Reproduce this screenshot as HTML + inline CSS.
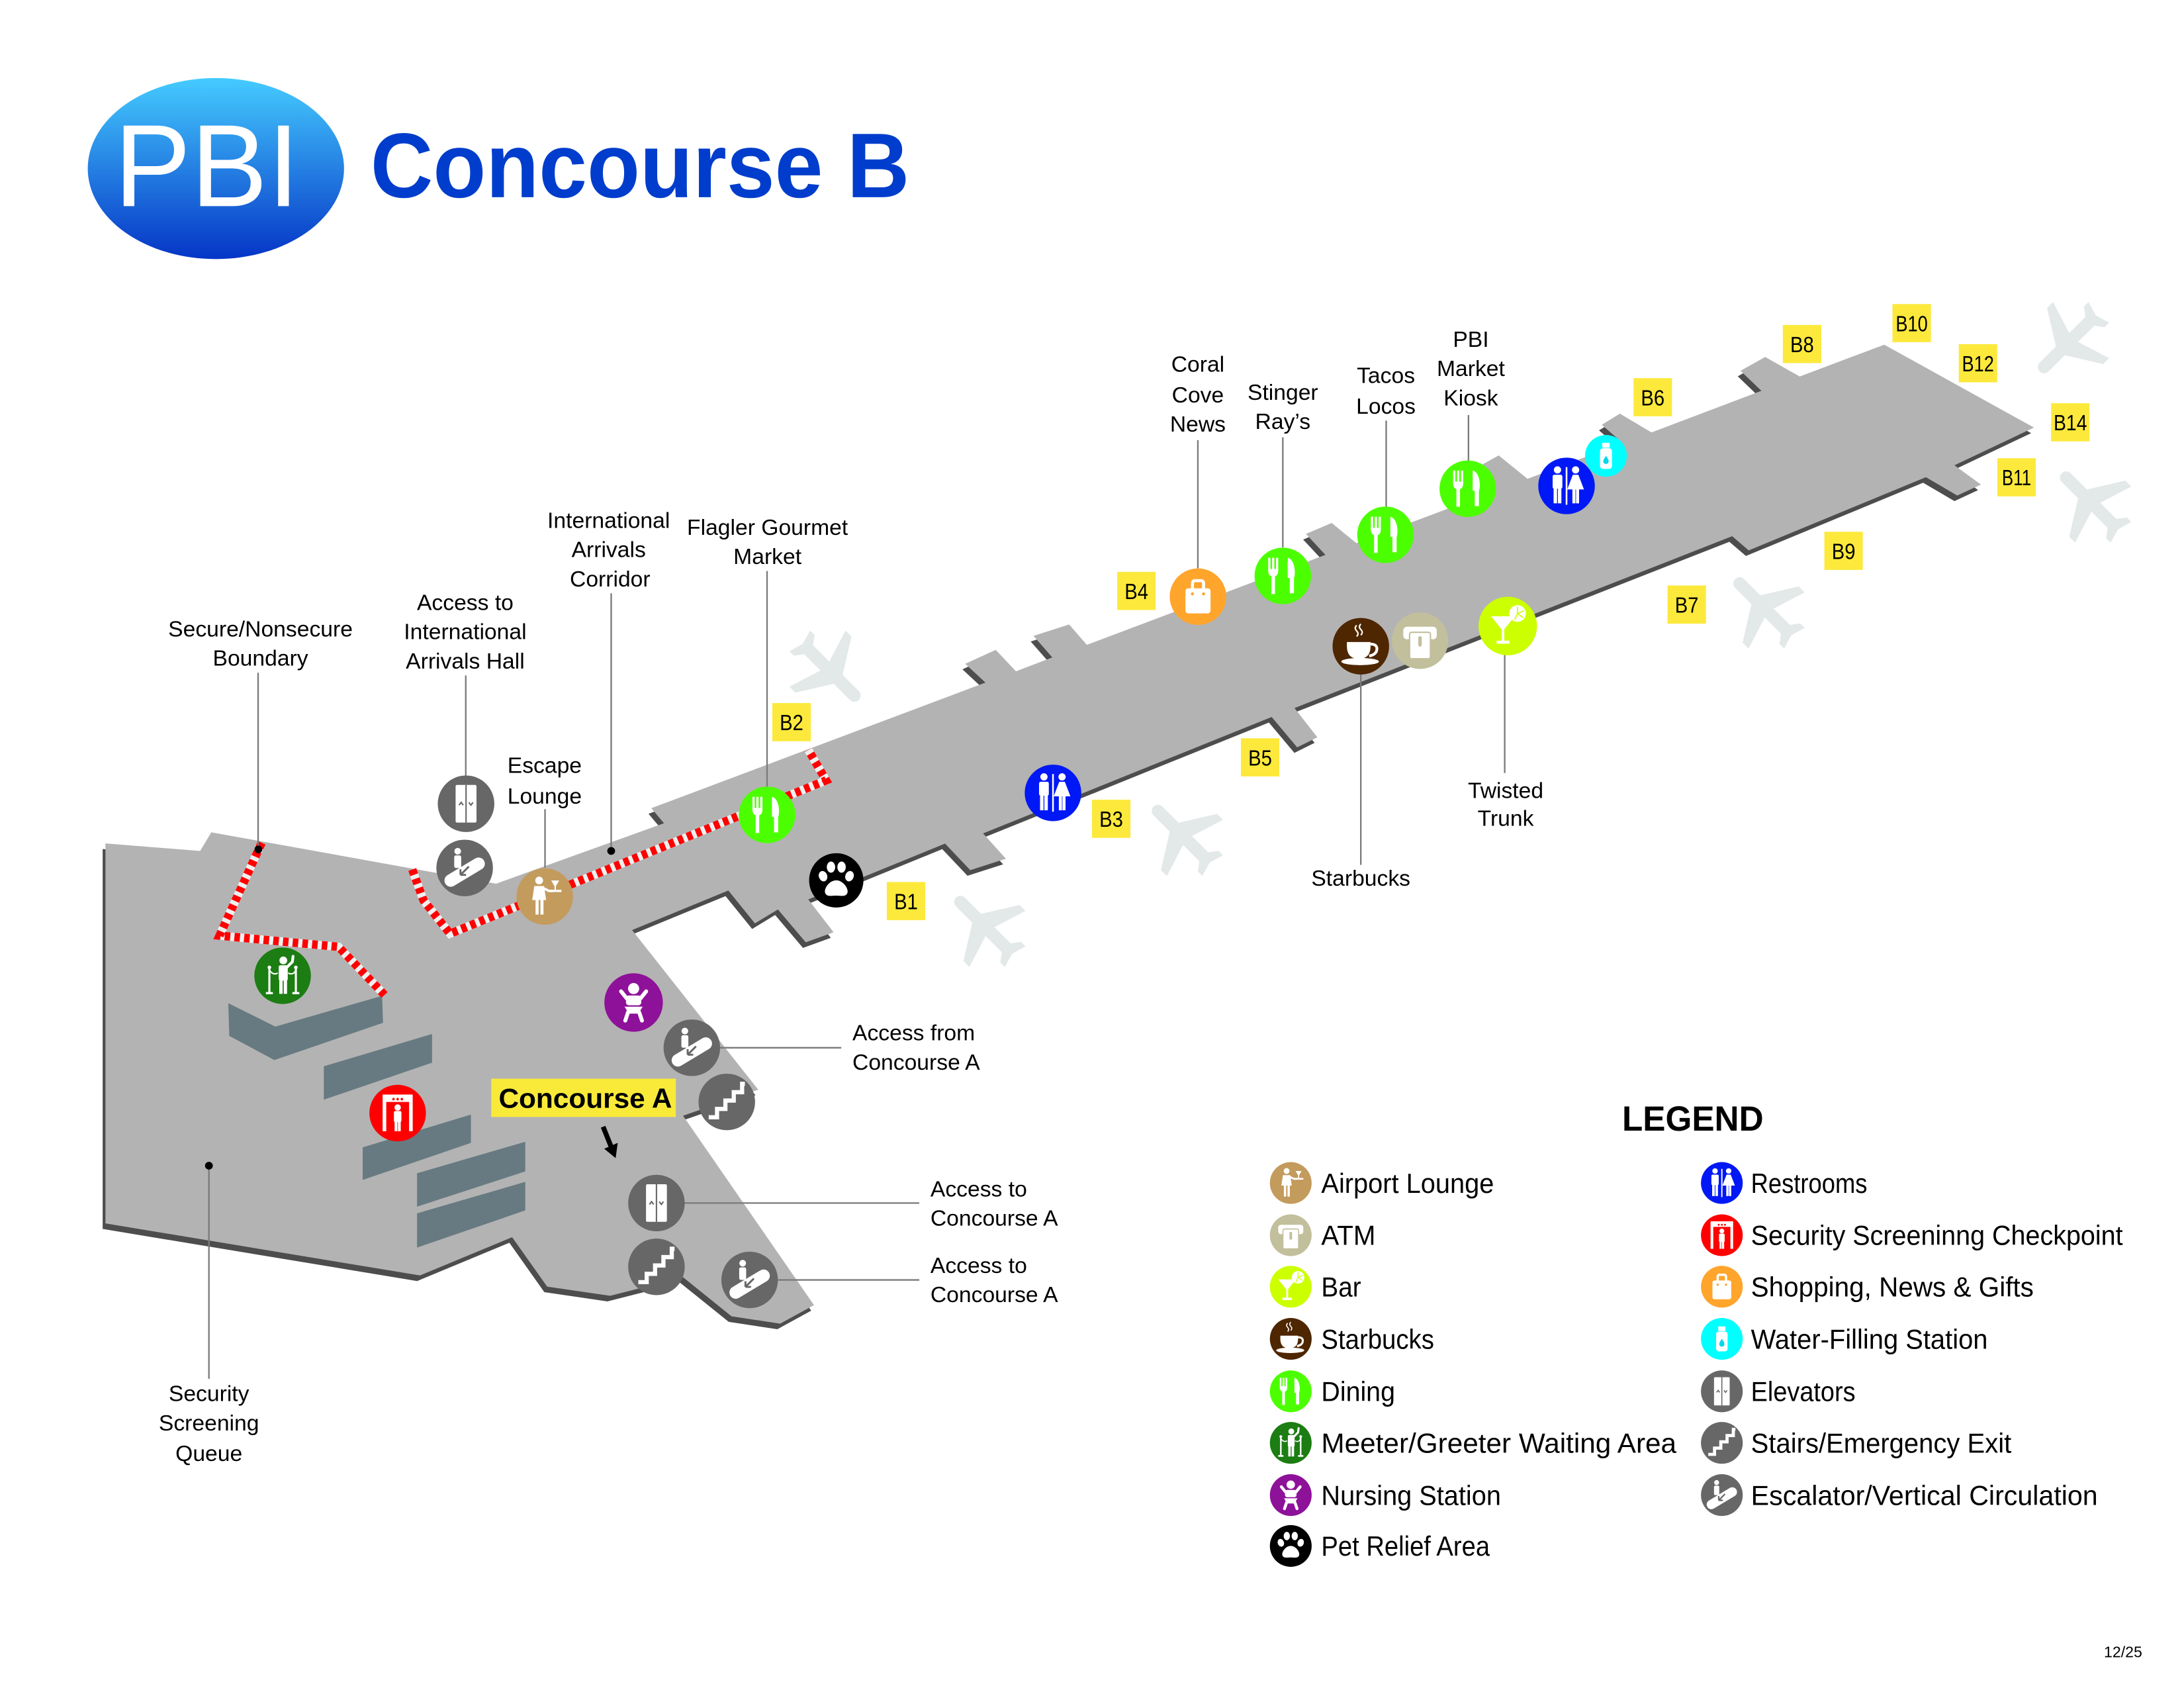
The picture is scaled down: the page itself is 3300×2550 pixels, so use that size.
<!DOCTYPE html>
<html><head><meta charset="utf-8">
<style>
html,body{margin:0;padding:0;background:#fff;}
svg{display:block;}
text{font-family:"Liberation Sans",Arial,sans-serif;}
</style></head><body>
<svg xmlns="http://www.w3.org/2000/svg" width="3300" height="2550" viewBox="0 0 1568 1212" preserveAspectRatio="none">
<defs>
<linearGradient id="lg" x1="0" y1="0" x2="0" y2="1">
<stop offset="0" stop-color="#45cbff"/><stop offset="1" stop-color="#0535c6"/>
</linearGradient>
<g id="plane"><path transform="translate(-11.5,-12)" d="M21 16v-2l-8-5V3.5c0-.83-.67-1.5-1.5-1.5S10 2.67 10 3.5V9l-8 5v2l8-2.5V19l-2 1.5V22l3.5-1 3.5 1v-1.5L13 19v-5.5l8 2.5z"/></g>
<polygon id="shape" points="75.7,605.6 143.7,611 151.7,597.6 356.2,634.5 476.7,591.1 467.6,580.3 707.5,490.1 693,476.6 714.9,466.6 729.4,482 755.5,472 742,456.6 767.6,448.4 780.3,463 951.6,398.4 937.6,383.4 956.1,375.5 973.8,390 1072,353 1058,337 1076,327 1096.7,343.8 1165,318.1 1150,305 1163,297 1185.7,310.5 1264.6,280.6 1249.6,266.2 1267.3,256.3 1292.1,270.3 1352.8,247.5 1460.3,307 1403.2,334.1 1422.2,347.9 1405.2,355.8 1382.7,342.6 1255.5,395.2 1243.6,385 929.4,508.4 945.8,529.4 931.3,536.6 913,514.8 705.8,598.4 722.2,616.6 696.6,624.8 678.5,605.7 580.3,645.8 598.5,669.4 578.5,676.6 558.5,653 542,663 522.9,639.4 453.8,667.8 544.4,782.4 490.4,801.1 584.4,937.1 560.1,950.4 525.2,945.1 490.4,917.1 438.1,930.4 392.8,923.8 367.7,888.3 301.5,915.8 75.7,878.4"/>

<g id="g-dining" fill="#fff">
<rect x="-10.5" y="-13" width="1.6" height="9"/>
<rect x="-7.7" y="-13" width="1.6" height="9"/>
<rect x="-4.9" y="-13" width="1.6" height="9"/>
<path d="M-10.5,-5 h7.2 v1 q0,3.5 -2.3,4.3 v12.7 h-2.6 v-12.7 q-2.3,-0.8 -2.3,-4.3z"/>
<path d="M3.5,-13 C8.5,-12 9.5,-2 8,1.5 L8,12.5 L5,12.5 L5,1.5 L3.5,1.5 Z"/>
</g>
<g id="g-rest" fill="#fff">
<circle cx="-6.5" cy="-11.5" r="2.6"/>
<rect x="-10" y="-8" width="7" height="10" rx="1.2"/>
<rect x="-9.3" y="1" width="2.5" height="11.5"/>
<rect x="-6.2" y="1" width="2.5" height="11.5"/>
<rect x="-0.6" y="-13.5" width="1.2" height="27"/>
<circle cx="6.5" cy="-11.5" r="2.6"/>
<path d="M4.5,-8 h4 l4,10.5 h-12z"/>
<rect x="4.2" y="2" width="2.2" height="10.5"/>
<rect x="6.8" y="2" width="2.2" height="10.5"/>
</g>
<g id="g-elev">
<rect x="-7.5" y="-13.5" width="15" height="27" rx="1" fill="#fff"/>
<path d="M0,-13.5 V13.5" stroke="#676767" stroke-width="1"/>
<path d="M-5,1 l1.5,-2 l1.5,2 M2,-1 l1.5,2 l1.5,-2" stroke="#676767" stroke-width="1" fill="none"/>
</g>
<g id="g-esc">
<path d="M-10,9 L10,-3" stroke="#fff" stroke-width="9" stroke-linecap="round"/>
<circle cx="-5" cy="-12" r="2.4" fill="#fff"/>
<rect x="-7.5" y="-9" width="5" height="9" rx="1.2" fill="#fff"/>
<path d="M3,-1 L-3,5 M-3,5 v-4 M-3,5 h4" stroke="#676767" stroke-width="1.4" fill="none"/>
</g>
<g id="g-stairs">
<path d="M-13,11 h6 v-6 h6 v-6 h6 v-6 h6 v-6 h2" stroke="#fff" stroke-width="3" fill="none"/>
</g>
<g id="g-shop">
<path d="M-4,-5 v-4.5 q0,-2 2,-2 h4 q2,0 2,2 v4.5" stroke="#fff" stroke-width="2.2" fill="none"/>
<rect x="-9" y="-6" width="18" height="18" rx="2" fill="#fff"/>
<circle cx="-4" cy="-2" r="1.1" fill="#ffa52c"/><circle cx="4" cy="-2" r="1.1" fill="#ffa52c"/>
</g>
<g id="g-coffee" fill="#fff">
<path d="M-10,-3 h17 v3 q0,9 -8.5,9 q-8.5,0 -8.5,-9z"/>
<path d="M7,-1.5 q5,0 4.5,4 q-0.5,3.5 -5.5,4.5" stroke="#fff" stroke-width="2" fill="none"/>
<ellipse cx="-0.5" cy="11" rx="13.5" ry="2.6"/>
<path d="M-3,-15 q-2,2 0,4 q2,2 0,4 M0,-16 q-2,2 0,4 q2,2 0,4" stroke="#fff" stroke-width="1" fill="none"/>
</g>
<g id="g-atm">
<rect x="-12" y="-10" width="24" height="9" rx="2.5" fill="#fff"/>
<rect x="-7.5" y="-6" width="15" height="19" rx="1.5" fill="#fff" stroke="#c2bf9c" stroke-width="1"/>
<path d="M0,-2 v5" stroke="#c2bf9c" stroke-width="2.5" stroke-linecap="round"/>
</g>
<g id="g-bar" fill="#fff">
<path d="M-12,-7 h17 l-8.5,10.5z"/>
<rect x="-4.3" y="2" width="1.8" height="9"/>
<rect x="-8" y="10.5" width="9.2" height="2.2"/>
<circle cx="7" cy="-9" r="6"/>
<path d="M7,-9 l0,-5 M7,-9 l4.5,-2 M7,-9 l4,3 M7,-9 l-2,4.5" stroke="#ccff00" stroke-width="0.8"/>
</g>
<g id="g-water">
<rect x="-5.5" y="-7" width="11" height="19" rx="2.5" fill="#fff"/>
<rect x="-3.5" y="-12" width="7" height="4.5" rx="1" fill="#fff"/>
<path d="M0,0 q-2.5,3.5 -2.5,5 a2.5,2.5 0 0 0 5,0 q0,-1.5 -2.5,-5z" fill="#00d8e8"/>
</g>
<g id="g-pet" fill="#fff">
<path d="M0,0 c-5,0 -9,6 -8,9 c1,3 5,2 8,2 c3,0 7,1 8,-2 c1,-3 -3,-9 -8,-9z"/>
<ellipse cx="-9.5" cy="-3" rx="3" ry="3.8" transform="rotate(-20 -9.5 -3)"/>
<ellipse cx="-3.8" cy="-9.5" rx="3" ry="4"/>
<ellipse cx="3.8" cy="-9.5" rx="3" ry="4"/>
<ellipse cx="9.5" cy="-3" rx="3" ry="3.8" transform="rotate(20 9.5 -3)"/>
</g>
<g id="g-nurse">
<circle cx="0" cy="-10" r="4" fill="#fff"/>
<path d="M-9,-8 L-5,-3 M9,-8 L5,-3" stroke="#fff" stroke-width="2.8" stroke-linecap="round"/>
<rect x="-5.5" y="-5" width="11" height="7" rx="2" fill="#fff"/>
<path d="M-6.5,3 h13 l-3,5 h-7z" fill="#fff"/>
<path d="M-4,7 l-2,6 M4,7 l2,6" stroke="#fff" stroke-width="2.8" stroke-linecap="round"/>
</g>
<g id="g-meet">
<circle cx="0.5" cy="-11" r="2.8" fill="#fff"/>
<rect x="-2.8" y="-7.5" width="6.5" height="11" rx="1.2" fill="#fff"/>
<path d="M3,-6 l4,-4 l0.5,-4" stroke="#fff" stroke-width="2" fill="none" stroke-linecap="round"/>
<path d="M-1.2,3 v10 M2,3 v10" stroke="#fff" stroke-width="2.4"/>
<path d="M-9.5,-5 v17 M9.5,-5 v17" stroke="#fff" stroke-width="1.5"/>
<path d="M-12,12.5 h5 M7,12.5 h5" stroke="#fff" stroke-width="1.6"/>
<circle cx="-9.5" cy="-6" r="1.3" fill="#fff"/><circle cx="9.5" cy="-6" r="1.3" fill="#fff"/>
<path d="M-9.5,-4 q3,4 6,2 M9.5,-4 q-2,4 -5.5,2" stroke="#fff" stroke-width="1" fill="none"/>
</g>
<g id="g-sec">
<path d="M-9.5,13 v-25 h19 v25" stroke="#fff" stroke-width="2.6" fill="none"/>
<rect x="-9.5" y="-12" width="19" height="4" fill="#fff"/>
<circle cx="-3" cy="-10" r="0.9" fill="#f00"/><circle cx="0" cy="-10" r="0.9" fill="#f00"/><circle cx="3" cy="-10" r="0.9" fill="#f00"/>
<circle cx="0" cy="-4" r="2.3" fill="#fff"/>
<rect x="-2.7" y="-1.5" width="5.4" height="8" rx="1" fill="#fff"/>
<path d="M-1.2,6 v7 M1.2,6 v7" stroke="#fff" stroke-width="2"/>
</g>
<g id="g-lounge">
<circle cx="-4" cy="-11.5" r="2.8" fill="#fff"/>
<path d="M-7.5,-7.5 h7 l1.5,10 h-10z" fill="#fff"/>
<path d="M-5.5,2 v11 M-2,2 v11" stroke="#fff" stroke-width="2.2"/>
<path d="M-1,-6 l4,2 h3" stroke="#fff" stroke-width="1.8" fill="none"/>
<rect x="3" y="-4.8" width="9" height="1.6" fill="#fff"/>
<path d="M5.5,-11 h4 l-2,3.5z M7.5,-7.5 v3" stroke="#fff" stroke-width="1" fill="#fff"/>
</g>
</defs>

<rect x="0" y="0" width="1568" height="1212" fill="#fff"/>

<!-- Header -->
<ellipse cx="155" cy="121" rx="92" ry="65" fill="url(#lg)"/>
<text x="82" y="148" font-size="84" fill="#fff" textLength="133" lengthAdjust="spacingAndGlyphs">PBI</text>
<text x="266" y="141.6" font-size="66" font-weight="bold" fill="#003dcc" textLength="387" lengthAdjust="spacingAndGlyphs">Concourse B</text>

<!-- Planes -->
<g fill="#e3e8e8">
<use href="#plane" transform="translate(595.4,481.4) rotate(135) scale(3)"/>
<use href="#plane" transform="translate(849.4,600.3) rotate(-45) scale(3)"/>
<use href="#plane" transform="translate(707.6,665.7) rotate(-45) scale(3)"/>
<use href="#plane" transform="translate(1267,437) rotate(-45) scale(3)"/>
<use href="#plane" transform="translate(1485.6,245.5) rotate(225) scale(3)"/>
<use href="#plane" transform="translate(1501.5,361) rotate(-45) scale(3)"/>
</g>

<!-- Concourse shape -->
<use href="#shape" fill="#4d4d4d" transform="translate(-2,4)"/>
<use href="#shape" fill="#b3b3b3"/>

<!-- slabs -->
<g fill="#677a81">
<polygon points="163.9,720.3 197.7,737.1 274.3,715 275,734.4 197,761.1 164.6,743.8"/>
<polygon points="232.5,765.6 310.2,742.4 310.2,763 232.5,789.6"/>
<polygon points="260.4,823.8 338.1,800.3 338.1,820.6 260.4,847.2"/>
<polygon points="299.4,842.4 377.1,819.8 377.1,841.1 299.4,866.4"/>
<polygon points="299.4,871.2 377.1,848.6 377.1,869.1 299.4,895.8"/>
</g>

<!-- hatched boundary -->
<g fill="none" stroke-width="6">
<path d="M187.9,605.1 L157.6,671.8 L243,679.8 L276.1,714.4" stroke="#eef0f0"/>
<path d="M187.9,605.1 L157.6,671.8 L243,679.8 L276.1,714.4" stroke="#f00" stroke-dasharray="4 3"/>
<path d="M296,624.3 L304,646.4 L323.1,670.4 L593.1,560.3 L580.3,538.4" stroke="#eef0f0"/>
<path d="M296,624.3 L304,646.4 L323.1,670.4 L593.1,560.3 L580.3,538.4" stroke="#f00" stroke-dasharray="4 3"/>
</g>

<!-- leader lines -->
<g stroke="#7a7a7a" stroke-width="1.1" fill="none">
<path d="M185.3,483 V608"/>
<path d="M334.4,485 V557"/>
<path d="M438.8,426 V611"/>
<path d="M550.7,410 V565"/>
<path d="M391.3,581 V623"/>
<path d="M860,316 V408"/>
<path d="M921,314 V393"/>
<path d="M995.2,302 V364"/>
<path d="M1054.3,298 V331"/>
<path d="M977,484 V621"/>
<path d="M1080.3,470 V555"/>
<path d="M516,752.3 H604"/>
<path d="M491,863.8 H660"/>
<path d="M558,919 H660"/>
<path d="M150,837 V990"/>
</g>
<g fill="#000">
<circle cx="185.5" cy="609.9" r="2.8"/>
<circle cx="438.8" cy="611" r="2.8"/>
<circle cx="150" cy="837" r="2.8"/>
</g>

<!-- Map icons -->
<g transform="translate(334.6,577.1)"><circle r="20.3" fill="#676767"/><use href="#g-elev"/></g>
<g transform="translate(333.6,623.2)"><circle r="20.3" fill="#676767"/><use href="#g-esc"/></g>
<g transform="translate(391.1,643.7)"><circle r="20.3" fill="#c39b5d"/><use href="#g-lounge"/></g>
<g transform="translate(202.9,700.6)"><circle r="20.3" fill="#1b7d12"/><use href="#g-meet"/></g>
<g transform="translate(285.5,799.2)"><circle r="20.3" fill="#ff0000"/><use href="#g-sec"/></g>
<g transform="translate(454.9,719.8)"><circle r="21" fill="#8e1199"/><use href="#g-nurse"/></g>
<g transform="translate(496.7,752.3)"><circle r="20.3" fill="#676767"/><use href="#g-esc"/></g>
<g transform="translate(521.8,791.2)"><circle r="20.3" fill="#676767"/><use href="#g-stairs"/></g>
<g transform="translate(471.3,863.8)"><circle r="20.3" fill="#676767"/><use href="#g-elev"/></g>
<g transform="translate(471.3,909.6)"><circle r="20.3" fill="#676767"/><use href="#g-stairs"/></g>
<g transform="translate(538.2,919)"><circle r="20.3" fill="#676767"/><use href="#g-esc"/></g>
<g transform="translate(550.7,585.1)"><circle r="20.3" fill="#4cff00"/><use href="#g-dining"/></g>
<g transform="translate(600.4,632.1)"><circle r="19.5" fill="#000"/><use href="#g-pet"/></g>
<g transform="translate(756,569.3)"><circle r="20.3" fill="#0018f5"/><use href="#g-rest"/></g>
<g transform="translate(860.1,428.4)"><circle r="20.3" fill="#ffa52c"/><use href="#g-shop"/></g>
<g transform="translate(921,413.5)"><circle r="20.3" fill="#4cff00"/><use href="#g-dining"/></g>
<g transform="translate(977,464)"><circle r="20.3" fill="#4e2600"/><use href="#g-coffee"/></g>
<g transform="translate(1019.5,460)"><circle r="20.3" fill="#c2bf9c"/><use href="#g-atm"/></g>
<g transform="translate(994.7,384)"><circle r="20.3" fill="#4cff00"/><use href="#g-dining"/></g>
<g transform="translate(1053.8,350.9)"><circle r="20.3" fill="#4cff00"/><use href="#g-dining"/></g>
<g transform="translate(1124.7,348.9)"><circle r="20.3" fill="#0018f5"/><use href="#g-rest"/></g>
<g transform="translate(1153,327.3)"><circle r="15" fill="#00ffff"/><use href="#g-water" transform="scale(0.78)"/></g>
<g transform="translate(1082.5,449.5)"><circle r="21" fill="#ccff00"/><use href="#g-bar"/></g>

<!-- Concourse A label -->
<rect x="352.7" y="774.5" width="132.5" height="27.5" fill="#f9ea3a"/>
<text x="358" y="795.3" font-size="20" font-weight="bold" fill="#000" textLength="124.5" lengthAdjust="spacingAndGlyphs">Concourse A</text>
<path d="M433,809 L439,824" stroke="#000" stroke-width="3.5"/>
<polygon points="443.5,820.6 433.8,824.8 442,831.5" fill="#000"/>

<!-- Gate labels -->
<g fill="#fce93c">
<rect x="636.7" y="633.3" width="27.6" height="27.4"/>
<rect x="554.5" y="504.8" width="27.6" height="27.4"/>
<rect x="784" y="574.2" width="27.6" height="27.4"/>
<rect x="802.1" y="410.6" width="27.6" height="27.4"/>
<rect x="890.9" y="530.1" width="27.6" height="27.4"/>
<rect x="1172.8" y="271.5" width="27.6" height="27.4"/>
<rect x="1197.2" y="420.4" width="27.6" height="27.4"/>
<rect x="1280" y="233.3" width="27.6" height="27.4"/>
<rect x="1309.8" y="381.8" width="27.6" height="27.4"/>
<rect x="1358.7" y="218.3" width="27.6" height="27.4"/>
<rect x="1434" y="329" width="27.6" height="27.4"/>
<rect x="1406.3" y="247.1" width="27.6" height="27.4"/>
<rect x="1472.6" y="289.5" width="27.6" height="27.4"/>
</g>
<g font-size="16" fill="#000" text-anchor="middle">
<text x="650.5" y="652.8" textLength="17" lengthAdjust="spacingAndGlyphs">B1</text>
<text x="568.3" y="524.3" textLength="17" lengthAdjust="spacingAndGlyphs">B2</text>
<text x="797.8" y="593.7" textLength="17" lengthAdjust="spacingAndGlyphs">B3</text>
<text x="815.9" y="430.1" textLength="17" lengthAdjust="spacingAndGlyphs">B4</text>
<text x="904.7" y="549.6" textLength="17" lengthAdjust="spacingAndGlyphs">B5</text>
<text x="1186.6" y="291" textLength="17" lengthAdjust="spacingAndGlyphs">B6</text>
<text x="1211" y="439.9" textLength="17" lengthAdjust="spacingAndGlyphs">B7</text>
<text x="1293.8" y="252.8" textLength="17" lengthAdjust="spacingAndGlyphs">B8</text>
<text x="1323.6" y="401.3" textLength="17" lengthAdjust="spacingAndGlyphs">B9</text>
<text x="1372.5" y="237.8" textLength="23" lengthAdjust="spacingAndGlyphs">B10</text>
<text x="1447.8" y="348.5" textLength="21" lengthAdjust="spacingAndGlyphs">B11</text>
<text x="1420.1" y="266.6" textLength="23" lengthAdjust="spacingAndGlyphs">B12</text>
<text x="1486.4" y="309" textLength="24" lengthAdjust="spacingAndGlyphs">B14</text>
</g>

<!-- Map labels -->
<g font-size="16" text-anchor="middle" fill="#000">
<text x="187" y="457">Secure/Nonsecure</text>
<text x="187" y="478">Boundary</text>
<text x="334" y="438">Access to</text>
<text x="334" y="459">International</text>
<text x="334" y="480">Arrivals Hall</text>
<text x="437" y="379">International</text>
<text x="437" y="400">Arrivals</text>
<text x="438" y="421">Corridor</text>
<text x="551" y="384">Flagler Gourmet</text>
<text x="551" y="405">Market</text>
<text x="391" y="555">Escape</text>
<text x="391" y="577">Lounge</text>
<text x="860" y="267">Coral</text>
<text x="860" y="289">Cove</text>
<text x="860" y="310">News</text>
<text x="921" y="287">Stinger</text>
<text x="921" y="308">Ray’s</text>
<text x="995" y="275">Tacos</text>
<text x="995" y="297">Locos</text>
<text x="1056" y="249">PBI</text>
<text x="1056" y="270">Market</text>
<text x="1056" y="291">Kiosk</text>
<text x="1081" y="573">Twisted</text>
<text x="1081" y="593">Trunk</text>
<text x="977" y="636">Starbucks</text>
<text x="150" y="1006">Security</text>
<text x="150" y="1027">Screening</text>
<text x="150" y="1049">Queue</text>
</g>
<g font-size="16" fill="#000">
<text x="612" y="747">Access from</text>
<text x="612" y="768">Concourse A</text>
<text x="668" y="859">Access to</text>
<text x="668" y="880">Concourse A</text>
<text x="668" y="914">Access to</text>
<text x="668" y="935">Concourse A</text>
</g>

<!-- Legend -->
<text x="1164.6" y="811.7" font-size="25" font-weight="bold" fill="#000" textLength="101.5" lengthAdjust="spacingAndGlyphs">LEGEND</text>

<g transform="translate(926.7,849.4) scale(0.75)"><circle r="20" fill="#c39b5d"/><use href="#g-lounge"/></g>
<g transform="translate(926.7,886.9) scale(0.75)"><circle r="20" fill="#c2bf9c"/><use href="#g-atm"/></g>
<g transform="translate(926.7,923.9) scale(0.75)"><circle r="20" fill="#ccff00"/><use href="#g-bar"/></g>
<g transform="translate(926.7,961.3) scale(0.75)"><circle r="20" fill="#4e2600"/><use href="#g-coffee"/></g>
<g transform="translate(926.7,999) scale(0.75)"><circle r="20" fill="#4cff00"/><use href="#g-dining"/></g>
<g transform="translate(926.7,1036) scale(0.75)"><circle r="20" fill="#1b7d12"/><use href="#g-meet"/></g>
<g transform="translate(926.7,1073.5) scale(0.75)"><circle r="20" fill="#8e1199"/><use href="#g-nurse"/></g>
<g transform="translate(926.7,1110) scale(0.75)"><circle r="20" fill="#000"/><use href="#g-pet"/></g>

<g transform="translate(1236.2,849.4) scale(0.75)"><circle r="20" fill="#0018f5"/><use href="#g-rest"/></g>
<g transform="translate(1236.2,886.9) scale(0.75)"><circle r="20" fill="#ff0000"/><use href="#g-sec"/></g>
<g transform="translate(1236.2,923.9) scale(0.75)"><circle r="20" fill="#ffa52c"/><use href="#g-shop"/></g>
<g transform="translate(1236.2,961.3) scale(0.75)"><circle r="20" fill="#00ffff"/><use href="#g-water"/></g>
<g transform="translate(1236.2,999) scale(0.75)"><circle r="20" fill="#676767"/><use href="#g-elev"/></g>
<g transform="translate(1236.2,1036) scale(0.75)"><circle r="20" fill="#676767"/><use href="#g-stairs"/></g>
<g transform="translate(1236.2,1073.5) scale(0.75)"><circle r="20" fill="#676767"/><use href="#g-esc"/></g>

<g font-size="20" fill="#000">
<text x="948.6" y="856.4" textLength="124" lengthAdjust="spacingAndGlyphs">Airport Lounge</text>
<text x="948.6" y="893.9" textLength="39" lengthAdjust="spacingAndGlyphs">ATM</text>
<text x="948.6" y="930.9" textLength="28.6" lengthAdjust="spacingAndGlyphs">Bar</text>
<text x="948.6" y="968.3" textLength="81" lengthAdjust="spacingAndGlyphs">Starbucks</text>
<text x="948.6" y="1006" textLength="53" lengthAdjust="spacingAndGlyphs">Dining</text>
<text x="948.6" y="1043" textLength="255" lengthAdjust="spacingAndGlyphs">Meeter/Greeter Waiting Area</text>
<text x="948.6" y="1080.5" textLength="129" lengthAdjust="spacingAndGlyphs">Nursing Station</text>
<text x="948.6" y="1117" textLength="121" lengthAdjust="spacingAndGlyphs">Pet Relief Area</text>
<text x="1257.1" y="856.4" textLength="83.5" lengthAdjust="spacingAndGlyphs">Restrooms</text>
<text x="1257.1" y="893.9" textLength="267" lengthAdjust="spacingAndGlyphs">Security Screeninng Checkpoint</text>
<text x="1257.1" y="930.9" textLength="203" lengthAdjust="spacingAndGlyphs">Shopping, News &amp; Gifts</text>
<text x="1257.1" y="968.3" textLength="170" lengthAdjust="spacingAndGlyphs">Water-Filling Station</text>
<text x="1257.1" y="1006" textLength="75" lengthAdjust="spacingAndGlyphs">Elevators</text>
<text x="1257.1" y="1043" textLength="187" lengthAdjust="spacingAndGlyphs">Stairs/Emergency Exit</text>
<text x="1257.1" y="1080.5" textLength="249" lengthAdjust="spacingAndGlyphs">Escalator/Vertical Circulation</text>
</g>

<text x="1538" y="1190" font-size="11" fill="#000" text-anchor="end">12/25</text>
</svg>
</body></html>
